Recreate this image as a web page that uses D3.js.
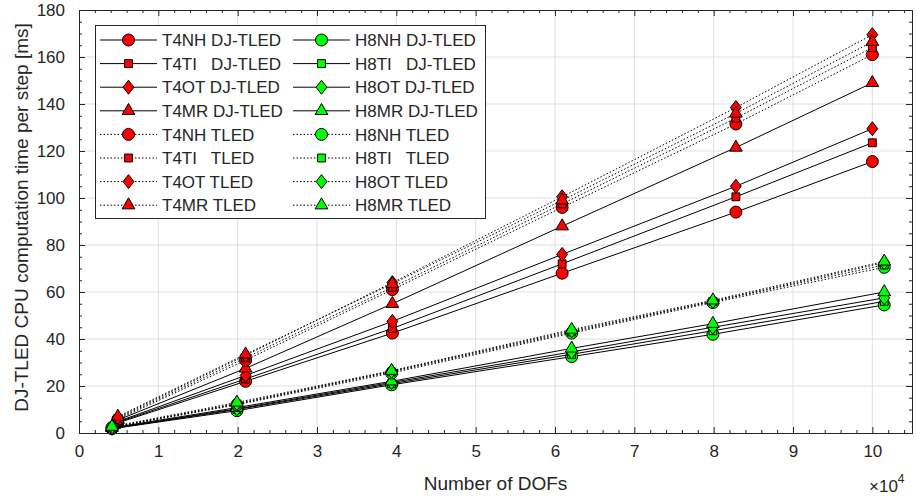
<!DOCTYPE html>
<html>
<head>
<meta charset="utf-8"/>
<title>DJ-TLED CPU computation time</title>
<script src="https://d3js.org/d3.v7.min.js"></script>
<style>
  body { margin: 0; background: #fff; }
  text { font-family: "Liberation Sans", Arial, sans-serif; fill: #262626; }
</style>
</head>
<body>
<div id="chart"></div>
<script>
// number of DOFs (x 10^4)
var t4Dofs = [0.49, 2.1, 3.95, 6.09, 8.28, 10.0];
var h8Dofs = [0.415, 1.99, 3.94, 6.21, 7.99, 10.15];

// computation time per step [ms]
var t4nhDj   = [4.3, 22, 42.5, 68, 94, 115.5];
var t4tiDj   = [4.6, 23, 44.5, 72, 100.5, 123.5];
var t4otDj   = [4.9, 24.5, 47.5, 76, 105, 129.5];
var t4mrDj   = [5.5, 27.5, 55, 88, 121.5, 149];
var t4nhTled = [5.8, 31, 61, 96, 131.5, 161];
var t4tiTled = [6.2, 32, 62, 97.5, 134, 164];
var t4otTled = [6.6, 33, 64, 100.5, 138.5, 169.5];
var t4mrTled = [7, 33.5, 63.5, 99, 136, 166.5];

var h8nhDj   = [1.8, 9.5, 20.5, 32.5, 42, 54.5];
var h8tiDj   = [1.9, 10, 21, 33.5, 43.5, 56];
var h8otDj   = [2, 10.3, 21.5, 34.5, 45, 57.5];
var h8mrDj   = [2.2, 10.8, 22, 36, 46.5, 60];
var h8nhTled = [2.3, 12, 25.5, 42.5, 55.5, 70.5];
var h8tiTled = [2.4, 12.3, 26, 43, 56, 71.5];
var h8otTled = [2.5, 12.5, 26.3, 43.5, 56, 72.5];
var h8mrTled = [2.7, 13, 26.5, 44, 56.5, 73];

var xTicks = [0, 1, 2, 3, 4, 5, 6, 7, 8, 9, 10];
var yTicks = [0, 20, 40, 60, 80, 100, 120, 140, 160, 180];

var series = [
  {name: "T4NH DJ-TLED",   x: t4Dofs, y: t4nhDj,   fill: "#ff0000", shape: "circle",   dotted: false},
  {name: "T4TI   DJ-TLED", x: t4Dofs, y: t4tiDj,   fill: "#ff0000", shape: "square",   dotted: false},
  {name: "T4OT DJ-TLED",   x: t4Dofs, y: t4otDj,   fill: "#ff0000", shape: "diamond",  dotted: false},
  {name: "T4MR DJ-TLED",   x: t4Dofs, y: t4mrDj,   fill: "#ff0000", shape: "triangle", dotted: false},
  {name: "T4NH TLED",      x: t4Dofs, y: t4nhTled, fill: "#ff0000", shape: "circle",   dotted: true},
  {name: "T4TI   TLED",    x: t4Dofs, y: t4tiTled, fill: "#ff0000", shape: "square",   dotted: true},
  {name: "T4OT TLED",      x: t4Dofs, y: t4otTled, fill: "#ff0000", shape: "diamond",  dotted: true},
  {name: "T4MR TLED",      x: t4Dofs, y: t4mrTled, fill: "#ff0000", shape: "triangle", dotted: true},
  {name: "H8NH DJ-TLED",   x: h8Dofs, y: h8nhDj,   fill: "#00ff00", shape: "circle",   dotted: false},
  {name: "H8TI   DJ-TLED", x: h8Dofs, y: h8tiDj,   fill: "#00ff00", shape: "square",   dotted: false},
  {name: "H8OT DJ-TLED",   x: h8Dofs, y: h8otDj,   fill: "#00ff00", shape: "diamond",  dotted: false},
  {name: "H8MR DJ-TLED",   x: h8Dofs, y: h8mrDj,   fill: "#00ff00", shape: "triangle", dotted: false},
  {name: "H8NH TLED",      x: h8Dofs, y: h8nhTled, fill: "#00ff00", shape: "circle",   dotted: true},
  {name: "H8TI   TLED",    x: h8Dofs, y: h8tiTled, fill: "#00ff00", shape: "square",   dotted: true},
  {name: "H8OT TLED",      x: h8Dofs, y: h8otTled, fill: "#00ff00", shape: "diamond",  dotted: true},
  {name: "H8MR TLED",      x: h8Dofs, y: h8mrTled, fill: "#00ff00", shape: "triangle", dotted: true}
];

var W = 917, H = 499;
var margin = {top: 10, right: 5, bottom: 66, left: 79};
var width = W - margin.left - margin.right,
    height = H - margin.top - margin.bottom;

var svg = d3.select("#chart").append("svg")
    .attr("width", W).attr("height", H)
    .style("display", "block");

var g = svg.append("g")
    .attr("transform", "translate(" + margin.left + "," + margin.top + ")");

var x = d3.scaleLinear().domain([0, 10.5]).range([0, width]);
var y = d3.scaleLinear().domain([0, 180]).range([height, 0]);

// matlab-like diamond: a bit wider than d3's
var wideDiamond = {
  draw: function(ctx, size) {
    var h = Math.sqrt(size) * 0.9, w = h * 0.78;
    ctx.moveTo(0, -h);
    ctx.lineTo(w, 0);
    ctx.lineTo(0, h);
    ctx.lineTo(-w, 0);
    ctx.closePath();
  }
};

var symbols = {
  circle: d3.symbol().type(d3.symbolCircle).size(113),
  square: d3.symbol().type(d3.symbolSquare).size(62),
  diamond: d3.symbol().type(wideDiamond).size(60),
  triangle: d3.symbol().type(d3.symbolTriangle).size(70)
};

// grid
g.append("g").selectAll("line").data(xTicks.slice(1)).enter().append("line")
    .attr("x1", function(d) { return x(d); }).attr("x2", function(d) { return x(d); })
    .attr("y1", 0).attr("y2", height)
    .attr("stroke", "#dfdfdf").attr("stroke-width", 1);
g.append("g").selectAll("line").data(yTicks.slice(1, -1)).enter().append("line")
    .attr("y1", function(d) { return y(d); }).attr("y2", function(d) { return y(d); })
    .attr("x1", 0).attr("x2", width)
    .attr("stroke", "#dfdfdf").attr("stroke-width", 1);

// series
var line = d3.line()
    .x(function(d) { return x(d[0]); })
    .y(function(d) { return y(d[1]); });

series.forEach(function(s) {
  var pts = s.x.map(function(v, i) { return [v, s.y[i]]; });
  g.append("path")
      .attr("d", line(pts))
      .attr("fill", "none")
      .attr("stroke", "#000")
      .attr("stroke-width", 1)
      .attr("stroke-dasharray", s.dotted ? "1.5,2" : null);
  g.append("g").selectAll("path").data(pts).enter().append("path")
      .attr("d", symbols[s.shape]())
      .attr("transform", function(d) { return "translate(" + x(d[0]) + "," + y(d[1]) + ")"; })
      .attr("fill", s.fill)
      .attr("stroke", "#000")
      .attr("stroke-width", 1);
});

// axes (box with inward ticks on all sides)
var axisColor = "#262626";
var xMinor = d3.range(0, 10.5001, 0.2).filter(function(v) { return Math.abs(v - Math.round(v)) > 1e-6; });
var yMinor = d3.range(0, 180.001, 5).filter(function(v) { return v % 20 !== 0; });

function tickAxis(axisFn, scale, ticks, len, labels) {
  var a = axisFn(scale).tickValues(ticks).tickSizeInner(-len).tickSizeOuter(0);
  if (labels) a.tickFormat(d3.format("d")).tickPadding(12);
  else a.tickFormat("");
  return a;
}

var axBottom = g.append("g").attr("transform", "translate(0," + height + ")");
axBottom.call(tickAxis(d3.axisBottom, x, xTicks, 6, true));
axBottom.append("g").call(tickAxis(d3.axisBottom, x, xMinor, 3, false));
var axTop = g.append("g");
axTop.call(tickAxis(d3.axisTop, x, xTicks, 6, false));
axTop.append("g").call(tickAxis(d3.axisTop, x, xMinor, 3, false));
var axLeft = g.append("g");
axLeft.call(tickAxis(d3.axisLeft, y, yTicks, 6, true));
axLeft.append("g").call(tickAxis(d3.axisLeft, y, yMinor, 3, false));
var axRight = g.append("g").attr("transform", "translate(" + width + ",0)");
axRight.call(tickAxis(d3.axisRight, y, yTicks, 6, false));
axRight.append("g").call(tickAxis(d3.axisRight, y, yMinor, 3, false));

g.selectAll(".domain").attr("stroke", axisColor);
g.selectAll(".tick line").attr("stroke", axisColor);
g.selectAll(".tick text")
    .attr("fill", "#262626")
    .style("font-family", "'Liberation Sans', Arial, sans-serif")
    .style("font-size", "17px");
axLeft.selectAll(".tick text").attr("dx", "-2");

// axis labels
svg.append("text")
    .attr("x", margin.left + width / 2).attr("y", 490)
    .attr("text-anchor", "middle")
    .style("font-size", "19px")
    .text("Number of DOFs");

var exp = svg.append("text")
    .attr("x", 869).attr("y", 492)
    .style("font-size", "17px");
exp.append("tspan").text("\u00d710");
exp.append("tspan").attr("dy", "-9").style("font-size", "12px").text("4");

svg.append("text")
    .attr("transform", "translate(28," + (margin.top + height / 2 - 4) + ") rotate(-90)")
    .attr("text-anchor", "middle")
    .style("font-size", "19px")
    .text("DJ-TLED CPU computation time per step [ms]");

// legend
var legend = svg.append("g");
legend.append("rect")
    .attr("x", 95.5).attr("y", 25.5).attr("width", 390).attr("height", 193)
    .attr("fill", "#fff").attr("stroke", axisColor).attr("stroke-width", 1);

var rowY0 = 40, rowDy = 23.6;
var colX = [100, 293];
series.forEach(function(s, i) {
  var col = Math.floor(i / 8), row = i % 8;
  var ly = rowY0 + row * rowDy, lx = colX[col];
  legend.append("line")
      .attr("x1", lx).attr("x2", lx + 57).attr("y1", ly).attr("y2", ly)
      .attr("stroke", "#000").attr("stroke-width", 1)
      .attr("stroke-dasharray", s.dotted ? "1.5,2" : null);
  legend.append("path")
      .attr("d", symbols[s.shape]())
      .attr("transform", "translate(" + (lx + 28.5) + "," + ly + ")")
      .attr("fill", s.fill).attr("stroke", "#000").attr("stroke-width", 1);
  legend.append("text")
      .attr("x", lx + 62).attr("y", ly).attr("dy", "0.36em")
      .style("font-size", "17px")
      .style("white-space", "pre")
      .attr("xml:space", "preserve")
      .text(s.name);
});
</script>
</body>
</html>
